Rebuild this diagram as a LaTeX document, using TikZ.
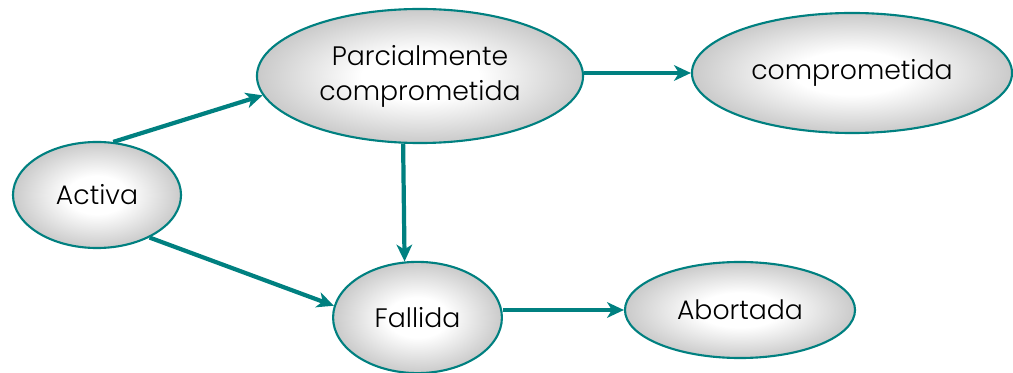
\documentclass[tikz,border=0pt]{standalone}
\usepackage{fontspec}
\setmainfont{Poppins}[UprightFont=* Light]
\usetikzlibrary{arrows.meta,shapes.geometric}
\definecolor{edgeteal}{HTML}{008080}
\definecolor{shadeout}{HTML}{C0C0C0}
\pgfdeclareradialshading{stateglow}{\pgfpoint{0bp}{0bp}}{color(0bp)=(white); color(9bp)=(white); color(28bp)=(shadeout); color(50bp)=(shadeout)}

\begin{document}
\begin{tikzpicture}[
  x=0.025cm, y=-0.025cm,
  every node/.style={font=\fontsize{19}{25}\selectfont},
  state/.style={ellipse, draw=edgeteal, line width=1.5pt, shading=stateglow, inner sep=0pt, align=center},
  trans/.style={-{Stealth[length=4.2mm,width=3.9mm,inset=1.2mm]}, line width=3pt, draw=edgeteal}
]
  \useasboundingbox (0,0) rectangle (1013,373);

  % States, placed at pixel coordinates of the page
  \node[state, minimum width=4.2cm, minimum height=2.65cm] (activa) at (97,195) {Activa};
  \node[state, minimum width=8.15cm, minimum height=3.35cm] (parcial) at (420,76) {Parcialmente\\comprometida};
  \node[state, minimum width=8.0cm, minimum height=3.0cm] (comp) at (852,73) {comprometida};
  \node[state, minimum width=4.22cm, minimum height=2.78cm] (fallida) at (417.5,317.5) {Fallida};
  \node[state, minimum width=5.75cm, minimum height=2.4cm] (abortada) at (740,310) {Abortada};

  % Transitions
  \draw[trans] (activa.73) -- (parcial.187);
  \draw[trans] (activa.321.6) -- (fallida.172.3);
  \draw[trans] (parcial.256.6) -- (fallida.103.7);
  \draw[trans] (parcial.east |- comp.west) -- (comp.west);
  \draw[trans] (fallida.east |- abortada.west) -- (abortada.west);
\end{tikzpicture}
\end{document}
